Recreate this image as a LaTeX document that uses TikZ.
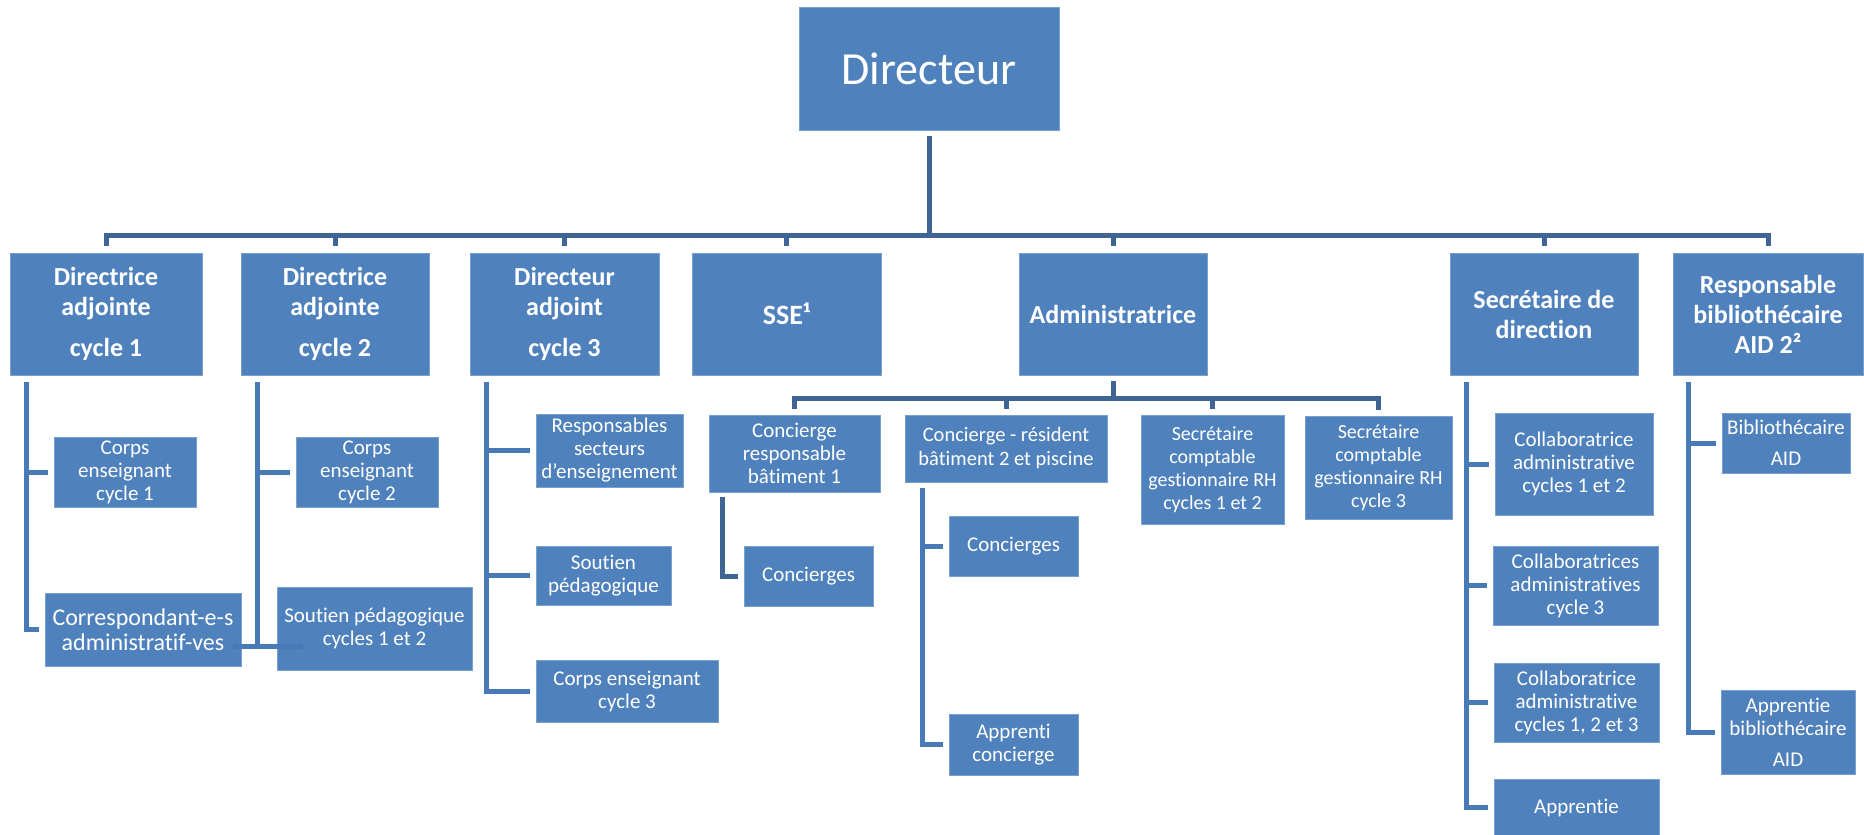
\documentclass[tikz,border=0pt]{standalone}
\usepackage{fontspec}
\setmainfont{Carlito}[Ligatures={NoCommon}]
\usepackage{tikz}
\definecolor{boxblue}{RGB}{79,129,189}
\definecolor{boxedge}{RGB}{122,160,207}
\definecolor{linedark}{RGB}{63,100,150}
\definecolor{lineblue}{RGB}{72,122,184}

\begin{document}
\begin{tikzpicture}[x=1pt,y=-1pt]
\tikzset{dirbox/.style={rectangle, fill=boxblue, draw=boxedge, line width=0.8pt, text=white, inner sep=1pt, align=center}}
\tikzset{chefbox/.style={dirbox, minimum height=122pt, font=\fontsize{26}{30}\selectfont\bfseries}}
\tikzset{postebox/.style={dirbox, font=\fontsize{21}{23}\selectfont}}
\tikzset{lien/.style={draw=linedark, line width=5pt}}
\tikzset{liencote/.style={draw=lineblue, line width=5pt}}
\useasboundingbox (0,0) rectangle (1864,835);

\node[dirbox, minimum width=260pt, minimum height=123pt, font=\fontsize{46}{50}\selectfont] (dir) at (929,68.5) {Directeur};

\node[chefbox, minimum width=192pt] (da1) at (106,314) {Directrice\\adjointe\\[11pt]cycle 1};
\node[chefbox, minimum width=188pt] (da2) at (335,314) {Directrice\\adjointe\\[11pt]cycle 2};
\node[chefbox, minimum width=189pt] (da3) at (564.5,314) {Directeur\\adjoint\\[11pt]cycle 3};
\node[chefbox, minimum width=189pt, font=\fontsize{28}{30}\selectfont\bfseries] (sse) at (786.5,314) {SSE¹};
\node[chefbox, minimum width=188pt] (admin) at (1113,314) {Administratrice};
\node[chefbox, minimum width=188pt] (secdir) at (1544,314) {Secrétaire de\\direction};
\node[chefbox, minimum width=190pt] (respbib) at (1768,314) {Responsable\\bibliothécaire\\AID 2²};

\node[postebox, minimum width=142pt, minimum height=70pt] (corps1) at (125,472) {Corps\\enseignant\\cycle 1};
\node[postebox, minimum width=196pt, minimum height=73pt, font=\fontsize{24}{25}\selectfont] (corresp) at (143,629.5) {Correspondant-e-s\\administratif-ves};
\node[postebox, minimum width=142pt, minimum height=70pt] (corps2) at (367,472) {Corps\\enseignant\\cycle 2};
\node[postebox, minimum width=195pt, minimum height=83pt] (soutien12) at (374.5,628.5) {Soutien pédagogique\\cycles 1 et 2};

\node[postebox, minimum width=147pt, minimum height=73pt] (respsect) at (609.5,450.5) {Responsables\\secteurs\\d’enseignement};
\node[postebox, minimum width=135pt, minimum height=59pt] (soutien3) at (603.5,575.5) {Soutien\\pédagogique};
\node[postebox, minimum width=182pt, minimum height=62pt] (corps3) at (627,691) {Corps enseignant\\cycle 3};

\node[postebox, minimum width=171pt, minimum height=77pt] (concresp) at (794.5,453.5) {Concierge\\responsable\\bâtiment 1};
\node[postebox, minimum width=129pt, minimum height=60pt] (concierges1) at (808.5,576) {Concierges};
\node[postebox, minimum width=202pt, minimum height=67pt, font=\fontsize{20.5}{24}\selectfont] (concres) at (1006,448.5) {Concierge - résident\\bâtiment 2 et piscine};
\node[postebox, minimum width=129pt, minimum height=60pt] (concierges2) at (1013.5,546) {Concierges};
\node[postebox, minimum width=129pt, minimum height=61pt] (apprenti) at (1013.5,744.5) {Apprenti\\concierge};
\node[postebox, minimum width=143pt, minimum height=109pt, font=\fontsize{20}{23}\selectfont] (seccompt12) at (1212.5,469.5) {Secrétaire\\comptable\\gestionnaire RH\\cycles 1 et 2};
\node[postebox, minimum width=147pt, minimum height=103pt, font=\fontsize{20}{23}\selectfont] (seccompt3) at (1378.5,467.5) {Secrétaire\\comptable\\gestionnaire RH\\cycle 3};

\node[postebox, minimum width=158pt, minimum height=102pt] (collab12) at (1574,464) {Collaboratrice\\administrative\\cycles 1 et 2};
\node[postebox, minimum width=165pt, minimum height=79pt] (collab3) at (1575.5,585.5) {Collaboratrices\\administratives\\cycle 3};
\node[postebox, minimum width=165pt, minimum height=79pt] (collab123) at (1576.5,702.5) {Collaboratrice\\administrative\\cycles 1, 2 et 3};
\node[postebox, minimum width=165pt, minimum height=57pt] (apprentie) at (1576.5,807.5) {Apprentie};
\node[postebox, minimum width=128pt, minimum height=60pt] (bibaid) at (1786,443) {Bibliothécaire\\[8pt]AID};
\node[postebox, minimum width=134pt, minimum height=84pt] (apprbib) at (1788,732) {Apprentie\\bibliothécaire\\[8pt]AID};

\coordinate (bus) at (929,235);
\draw[lien, shorten <=6pt] (dir.south) -- (bus);
\draw[lien, shorten <=7pt, shorten >=7pt] (da1.north) |- (bus) -| (respbib.north);
\foreach \n in {da2,da3,sse,admin,secdir}
  \draw[lien, shorten <=7pt] (\n.north) -- (\n.north |- bus);

\coordinate (adminbus) at (1113,398);
\draw[lien, shorten <=6pt] (admin.south) -- (adminbus);
\draw[lien, shorten <=6pt, shorten >=6pt] (concresp.north) |- (adminbus) -| (seccompt3.north);
\foreach \n in {concres,seccompt12}
  \draw[lien, shorten <=6pt] (\n.north) -- (\n.north |- adminbus);

\coordinate (da1x) at ([xshift=17pt]da1.south west);
\draw[liencote, shorten <=7pt, shorten >=6pt] (da1x) |- (corresp.west);
\draw[liencote, shorten >=6pt] (da1x |- corps1.west) -- (corps1.west);

\coordinate (da2x) at ([xshift=17pt]da2.south west);
\coordinate (da2bas) at ([yshift=24pt]soutien12.south west);
\draw[liencote, shorten <=7pt] (da2x) -- (da2x |- da2bas);
\draw[liencote, shorten >=6pt] (da2x |- corps2.west) -- (corps2.west);
\draw[liencote] (da2bas) ++(-44,0) -- ++(70,0);

\coordinate (da3x) at ([xshift=17pt]da3.south west);
\draw[liencote, shorten <=7pt, shorten >=6pt] (da3x) |- (corps3.west);
\foreach \n in {respsect,soutien3}
  \draw[liencote, shorten >=6pt] (da3x |- \n.west) -- (\n.west);

\coordinate (crx) at ([xshift=14pt]concresp.south west);
\draw[lien, shorten <=5pt, shorten >=6pt] (crx) |- (concierges1.west);

\coordinate (cresx) at ([xshift=18pt]concres.south west);
\draw[liencote, shorten <=6pt, shorten >=6pt] (cresx) |- (apprenti.west);
\draw[liencote, shorten >=6pt] (cresx |- concierges2.west) -- (concierges2.west);

\coordinate (sdx) at ([xshift=17pt]secdir.south west);
\draw[liencote, shorten <=7pt, shorten >=6pt] (sdx) |- (apprentie.west);
\foreach \n in {collab12,collab3,collab123}
  \draw[liencote, shorten >=6pt] (sdx |- \n.west) -- (\n.west);

\coordinate (rbx) at ([xshift=16pt]respbib.south west);
\draw[liencote, shorten <=7pt, shorten >=6pt] (rbx) |- (apprbib.west);
\draw[liencote, shorten >=6pt] (rbx |- bibaid.west) -- (bibaid.west);
\end{tikzpicture}
\end{document}
